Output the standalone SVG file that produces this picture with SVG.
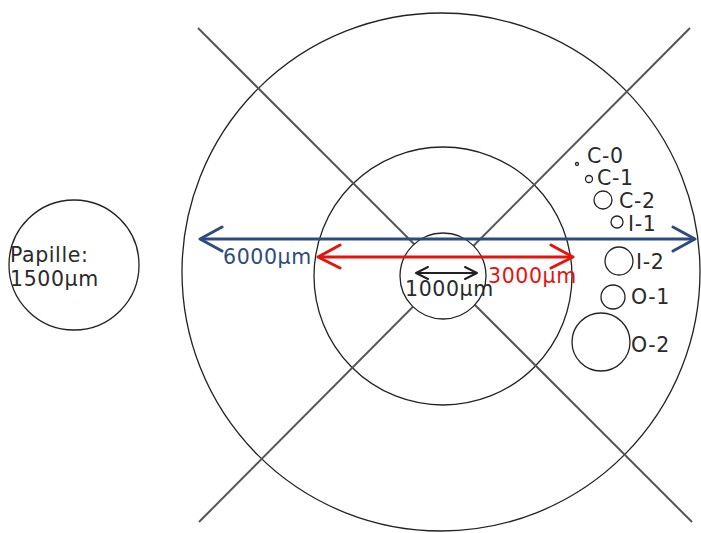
<svg xmlns="http://www.w3.org/2000/svg" width="701" height="533" viewBox="0 0 701 533">
<style>
.c{fill:none;stroke:#222;stroke-width:1.3}
.cw{fill:#fff;stroke:#222;stroke-width:1.3}
.x{stroke:#555;stroke-width:2;fill:none}
text{font-family:"DejaVu Sans",sans-serif;font-size:20.5px;letter-spacing:0.6px;fill:#2a2a2a}
.ah{fill:none;stroke-linecap:round;stroke-linejoin:round}
</style>
<rect width="701" height="533" fill="#fff"/>
<g id="outer"><circle class="c" cx="441" cy="272" r="259"/></g>
<g id="middle"><circle class="c" cx="443" cy="276" r="129"/></g>
<g id="cross">
<line class="x" x1="198" y1="28" x2="692" y2="522"/>
<line class="x" x1="690" y1="28" x2="199" y2="522"/>
</g>
<g id="inner"><circle class="cw" cx="443" cy="276" r="43"/></g>
<g id="papille">
<circle class="c" cx="74" cy="265" r="65"/>
<text x="10" y="262">Papille:</text>
<text x="10" y="286">1500µm</text>
</g>
<g id="connectors">
<g stroke="#2f4a7e" stroke-width="3">
<line x1="200" y1="239" x2="694" y2="239"/>
<path class="ah" d="M222,227 L200,239 L222,251 M673,227 L695,239 L673,251"/>
</g>
<g stroke="#e8120c" stroke-width="3">
<line x1="319" y1="257" x2="572" y2="257"/>
<path class="ah" d="M340,245 L318,257 L340,268 M551,245 L573,257 L551,268"/>
</g>
<g stroke="#222" stroke-width="2">
<line x1="416" y1="273" x2="477" y2="273"/>
<path class="ah" d="M428,267 L416,273 L428,279 M465,267 L477,273 L465,279"/>
</g>
</g>
<text x="223" y="264" style="fill:#2f4a7e">6000µm</text>
<text x="488" y="283" style="fill:#e8120c">3000µm</text>
<text x="405" y="296">1000µm</text>
<g id="C-0"><circle class="c" cx="577" cy="164" r="1.5"/><text x="587" y="163">C-0</text></g>
<g id="C-1"><circle class="c" cx="589" cy="179" r="3.5"/><text x="597" y="185">C-1</text></g>
<g id="C-2"><circle class="c" cx="603" cy="200" r="9"/><text x="619" y="208">C-2</text></g>
<g id="I-1"><circle class="c" cx="617" cy="222" r="6"/><text x="628" y="231">I-1</text></g>
<g id="I-2"><circle class="c" cx="619" cy="261" r="14"/><text x="636" y="269">I-2</text></g>
<g id="O-1"><circle class="c" cx="613" cy="297" r="12"/><text x="631" y="304">O-1</text></g>
<g id="O-2"><circle class="c" cx="601" cy="342" r="29"/><text x="631" y="352">O-2</text></g>
</svg>
